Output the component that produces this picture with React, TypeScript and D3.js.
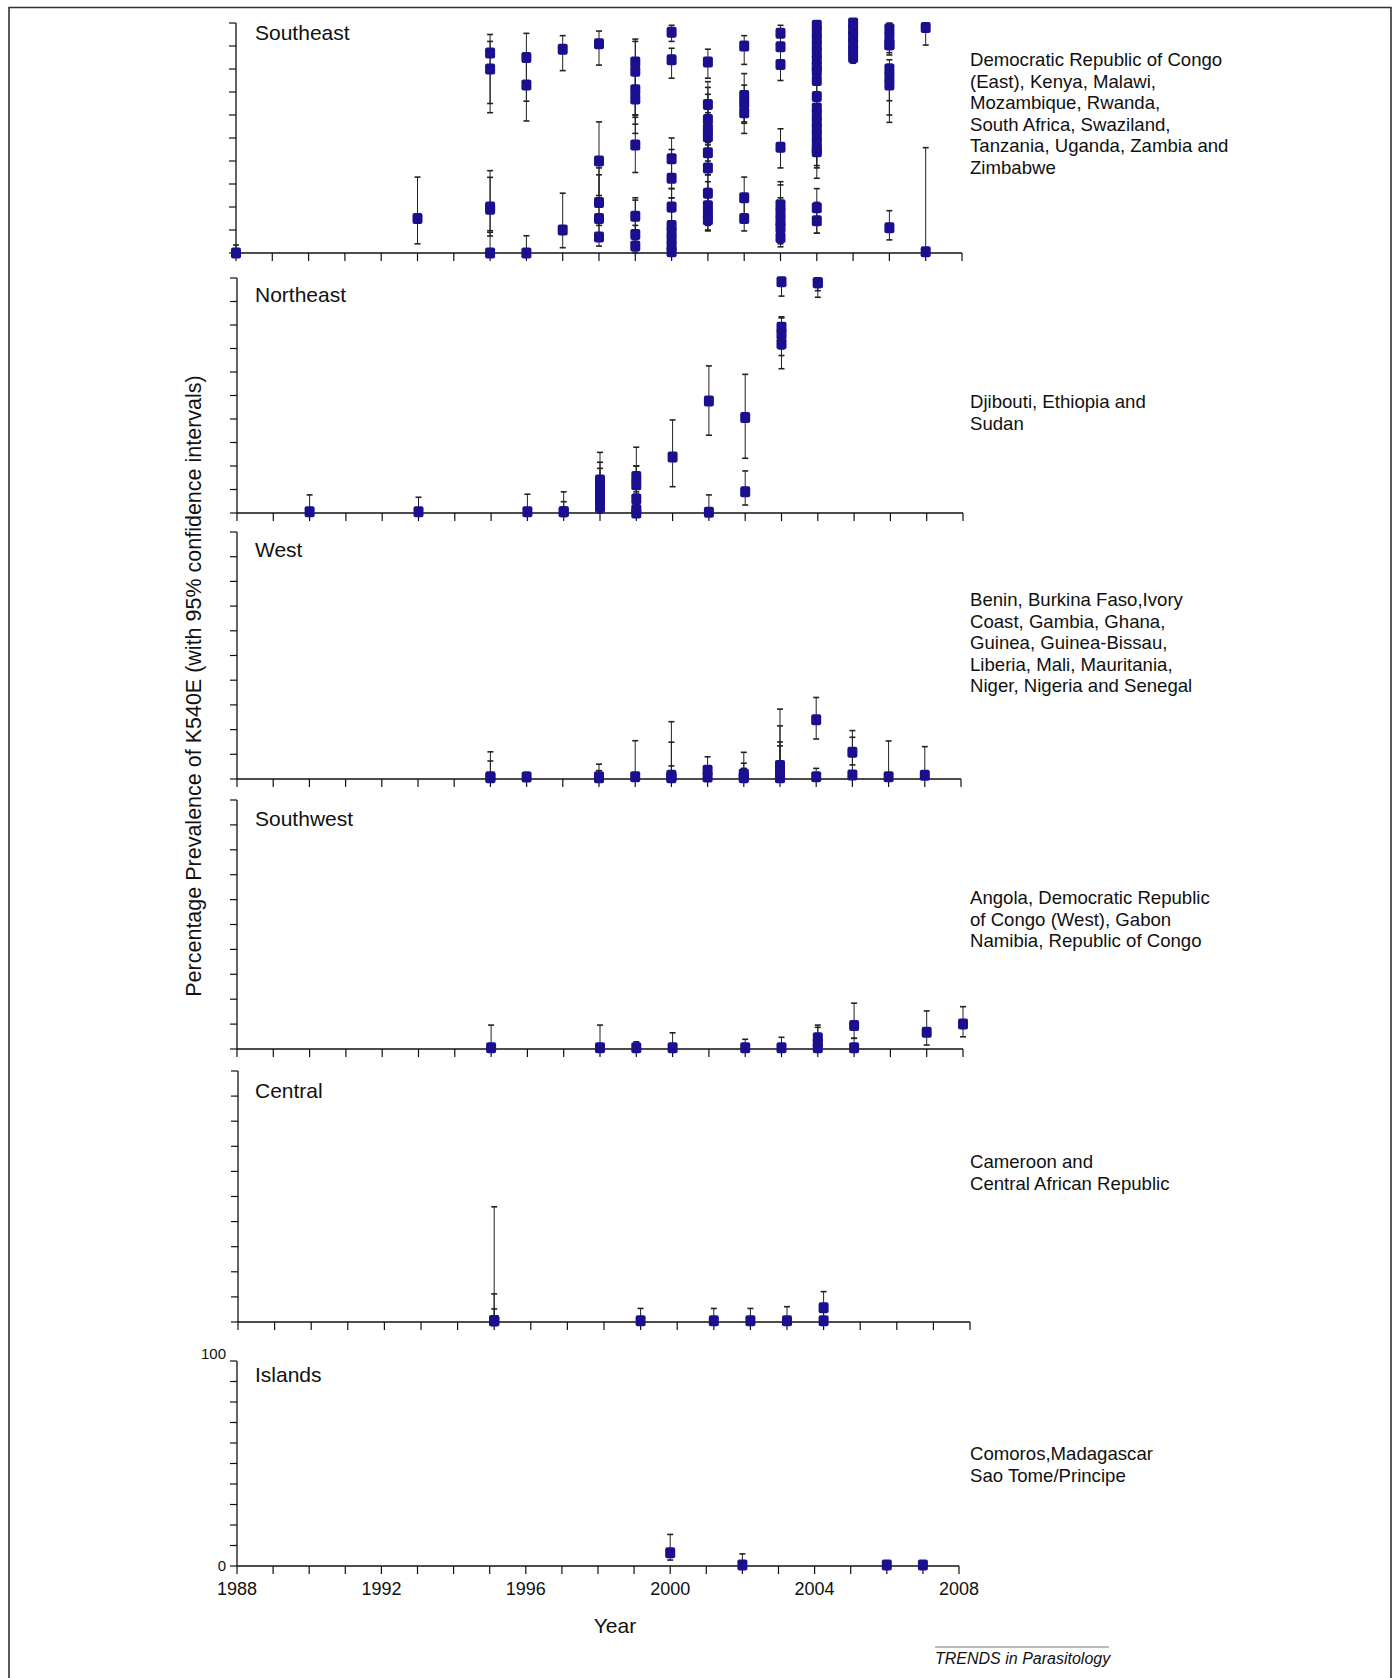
import React from 'react'
import * as d3 from 'd3'

// [year, prevalence %, lower 95% CI, upper 95% CI]
const southeast = [
  [1988, 0, 0, 3.5],
  [1993, 15, 4, 33],
  [1995, 87, 65, 92], [1995, 80, 61, 95], [1995, 19, 9.7, 35.8], [1995, 20, 7.4, 32.9], [1995, 0, 0, 9],
  [1996, 85, 66, 95.5], [1996, 73, 57.4, 85], [1996, 0, 0, 7.5],
  [1997, 88.6, 79.3, 94.5], [1997, 10, 2.3, 26],
  [1998, 91, 81.7, 96.5], [1998, 40, 25, 57], [1998, 22, 12, 37], [1998, 15, 6, 34], [1998, 7, 3, 14],
  [1999, 83, 60, 93], [1999, 79, 59, 92], [1999, 71, 56, 83], [1999, 67, 52, 80], [1999, 47, 35, 60],
  [1999, 16, 5, 24], [1999, 8, 1, 23], [1999, 3, 0, 12],
  [2000, 96, 92, 99], [2000, 84, 76, 89], [2000, 41, 28, 50], [2000, 32.5, 24, 45], [2000, 20, 11, 28],
  [2000, 12, 5, 24], [2000, 9, 3, 18], [2000, 6, 1, 13], [2000, 3, 0, 9], [2000, 0.5, 0, 6],
  [2001, 83, 76, 88.6], [2001, 64.6, 54, 74.5], [2001, 58, 47, 72], [2001, 54, 44, 69], [2001, 50.5, 40, 61],
  [2001, 43.6, 34, 55], [2001, 37, 26, 48], [2001, 26, 14, 34], [2001, 20.5, 12, 31], [2001, 17, 10, 28],
  [2001, 14.5, 9.6, 25],
  [2002, 90, 82, 94.5], [2002, 68.5, 57, 78], [2002, 65, 56.4, 73], [2002, 61, 52, 70], [2002, 24, 13, 33],
  [2002, 15, 9.6, 25],
  [2003, 95.5, 88, 99], [2003, 89.7, 82, 95], [2003, 82, 75, 88], [2003, 46, 37, 54], [2003, 21, 12, 31],
  [2003, 17.5, 10, 29.6], [2003, 14, 8, 24], [2003, 11, 4, 22], [2003, 6.7, 2.7, 14],
  [2004, 99, 95, 100], [2004, 96, 92, 99], [2004, 93, 89, 96], [2004, 90, 86, 94], [2004, 87, 83, 91],
  [2004, 84, 80, 88], [2004, 81, 77, 85], [2004, 79, 75, 83], [2004, 75, 70, 80], [2004, 68, 63, 73],
  [2004, 63, 58, 67], [2004, 60, 55, 64], [2004, 57, 52, 61], [2004, 54, 49, 58], [2004, 51, 46, 55],
  [2004, 48, 32.5, 52], [2004, 45, 37, 49], [2004, 44, 38, 48], [2004, 19.7, 8.6, 28], [2004, 14, 8.6, 22],
  [2005, 100, 97, 100], [2005, 97, 94, 100], [2005, 94, 91, 97], [2005, 91, 88, 94], [2005, 88, 85, 91],
  [2005, 85, 82.5, 88],
  [2006, 97.5, 94, 100], [2006, 94, 90, 97], [2006, 90.5, 86.1, 94], [2006, 90.5, 87.1, 93],
  [2006, 80, 66.2, 84], [2006, 76.5, 56.8, 82], [2006, 73, 60, 78], [2006, 11, 5.7, 18.4],
  [2007, 98, 90.4, 100], [2007, 0.5, 0, 45.8],
]

const northeast = [
  [1990, 0.5, 0, 7.7],
  [1993, 0.5, 0, 6.7],
  [1996, 0.5, 0, 8],
  [1997, 0.5, 0, 9], [1997, 0.5, 0, 4.8],
  [1998, 14, 8, 25.8], [1998, 11, 5, 21.6], [1998, 8, 3, 19], [1998, 5, 1, 14], [1998, 2.5, 0, 10],
  [1999, 15.5, 9, 28], [1999, 12, 6, 20], [1999, 6, 2, 20], [1999, 1.5, 0, 8], [1999, 0, 0, 5],
  [2000, 23.8, 11.2, 39.6],
  [2001, 47.7, 33.1, 62.6], [2001, 0.3, 0, 7.7],
  [2002, 40.6, 23.3, 59], [2002, 9, 3.4, 17.9],
  [2003, 98.4, 92.3, 100], [2003, 79, 69.8, 83], [2003, 76, 67, 83.5], [2003, 72, 61.4, 80],
  [2004, 98, 91.8, 100], [2004, 98, 94.6, 100],
]

const west = [
  [1995, 0.9, 0, 11], [1995, 0.5, 0, 7.3],
  [1996, 0.8, 0, 2.7],
  [1998, 0.9, 0, 6], [1998, 0.5, 0, 3.4],
  [1999, 0.9, 0, 15.5],
  [2000, 1.5, 0, 23.2], [2000, 0.9, 0, 14.9], [2000, 0.5, 0, 5.3],
  [2001, 3.5, 0.5, 9], [2001, 0.8, 0, 5],
  [2002, 2, 0, 10.8], [2002, 1, 0, 6.4], [2002, 0.5, 0, 4.3],
  [2003, 5.5, 1, 28.3], [2003, 3, 0, 21.5], [2003, 1, 0, 15], [2003, 0.5, 0, 13.4],
  [2004, 24, 16.2, 33], [2004, 0.9, 0, 4.3],
  [2005, 10.8, 5.7, 19.6], [2005, 1.6, 0, 16.9],
  [2006, 0.9, 0, 15.4],
  [2007, 1.5, 0, 13.1],
]

const southwest = [
  [1995, 0.5, 0, 9.6],
  [1998, 0.5, 0, 9.6],
  [1999, 0.5, 0, 2.9],
  [2000, 0.5, 0, 6.5],
  [2002, 0.5, 0, 3.9],
  [2003, 0.5, 0, 4.7],
  [2004, 4.5, 0.5, 9.6], [2004, 2.5, 0, 8.7], [2004, 0.5, 0, 4],
  [2005, 9.4, 4.3, 18.4], [2005, 0.5, 0, 4.3],
  [2007, 6.7, 1.6, 15.3],
  [2008, 10, 4.9, 17],
]

const central = [
  [1995, 0.5, 0, 45.9], [1995, 0.5, 0, 11.2], [1995, 0.5, 0, 5.2],
  [1999, 0.5, 0, 5.4],
  [2001, 0.5, 0, 5.4],
  [2002, 0.5, 0, 5.4],
  [2003, 0.5, 0, 6.1],
  [2004, 5.7, 1.5, 12.1], [2004, 0.5, 0, 5],
]

const islands = [
  [2000, 6.5, 2.9, 15.4],
  [2002, 0.5, 0, 5.9],
  [2006, 0.5, 0, 0.5],
  [2007, 0.5, 0, 0.5],
]

const regionNames = ['Southeast', 'Northeast', 'West', 'Southwest', 'Central', 'Islands']
const regionCountries = [
  ['Democratic Republic of Congo', '(East), Kenya, Malawi,', 'Mozambique, Rwanda,', 'South Africa, Swaziland,', 'Tanzania, Uganda, Zambia and', 'Zimbabwe'],
  ['Djibouti, Ethiopia and', 'Sudan'],
  ['Benin, Burkina Faso,Ivory', 'Coast, Gambia, Ghana,', 'Guinea, Guinea-Bissau,', 'Liberia, Mali, Mauritania,', 'Niger, Nigeria and Senegal'],
  ['Angola, Democratic Republic', 'of Congo (West), Gabon', 'Namibia, Republic of Congo'],
  ['Cameroon and', 'Central African Republic'],
  ['Comoros,Madagascar', 'Sao Tome/Principe'],
]
const regionData = [southeast, northeast, west, southwest, central, islands]

const yearDomain = [1988, 2008]
const yearLabels = [1988, 1992, 1996, 2000, 2004, 2008]
const percentLabels = [0, 100]

// panel geometry, page pixels (the scanned panels are not quite aligned)
const panels = [
  { x0: 236, x1: 962, top: 23, base: 253, titleY: 40, textY: 66 },
  { x0: 237, x1: 963, top: 278, base: 513, titleY: 302, textY: 408 },
  { x0: 237, x1: 961, top: 532, base: 779, titleY: 557, textY: 606 },
  { x0: 237, x1: 963, top: 800, base: 1049, titleY: 826, textY: 904 },
  { x0: 238, x1: 970, top: 1071, base: 1322, titleY: 1098, textY: 1168 },
  { x0: 237, x1: 959, top: 1361, base: 1566, titleY: 1382, textY: 1460 },
]

const FONT = '"Liberation Sans", Arial, Helvetica, sans-serif'
const MARK = '#1a0f8f'

function Panel({ idx }) {
  const p = panels[idx]
  const data = regionData[idx]
  const x = d3.scaleLinear().domain(yearDomain).range([p.x0, p.x1])
  const y = d3.scaleLinear().domain([0, 100]).range([p.base, p.top])
  const isLast = idx === panels.length - 1
  return (
    <g>
      {/* axes */}
      <line x1={p.x0} x2={p.x0} y1={p.top} y2={p.base} stroke="#111" strokeWidth={1.3} />
      <line x1={p.x0} x2={p.x1} y1={p.base} y2={p.base} stroke="#111" strokeWidth={1.3} />
      {y.ticks(10).map(t => (
        <line key={'y' + t} x1={p.x0 - 7} x2={p.x0} y1={y(t)} y2={y(t)} stroke="#111" strokeWidth={1.2} />
      ))}
      {x.ticks(20).map(t => (
        <line key={'x' + t} x1={x(t)} x2={x(t)} y1={p.base} y2={p.base + 8} stroke="#111" strokeWidth={1.2} />
      ))}
      {isLast && yearLabels.map(t => (
        <text key={'xl' + t} x={x(t)} y={p.base + 29} textAnchor="middle" fontSize={18} fontFamily={FONT} fill="#111">{t}</text>
      ))}
      {isLast && percentLabels.map(t => (
        <text key={'yl' + t} x={p.x0 - 11} y={y(t) + (t === 0 ? 5 : -2)} textAnchor="end" fontSize={15} fontFamily={FONT} fill="#111">{t}</text>
      ))}
      {/* error bars */}
      {data.map((d, i) => d[3] > d[2] ? (
        <g key={'e' + i} stroke="#222" strokeWidth={1}>
          <line x1={x(d[0])} x2={x(d[0])} y1={y(d[2])} y2={y(d[3])} />
          <line x1={x(d[0]) - 3} x2={x(d[0]) + 3} y1={y(d[2])} y2={y(d[2])} strokeWidth={1.6} />
          <line x1={x(d[0]) - 3} x2={x(d[0]) + 3} y1={y(d[3])} y2={y(d[3])} strokeWidth={1.6} />
        </g>
      ) : null)}
      {/* prevalence markers */}
      {data.map((d, i) => (
        <rect key={'m' + i} x={x(d[0]) - 5} y={y(d[1]) - 5.5} width={10} height={11} rx={2} fill={MARK} />
      ))}
      <text x={255} y={p.titleY} fontSize={21} fontFamily={FONT} fill="#111">{regionNames[idx]}</text>
      {regionCountries[idx].map((line, i) => (
        <text key={'c' + i} x={970} y={p.textY + i * 21.6} fontSize={18.6} fontFamily={FONT} fill="#111">{line}</text>
      ))}
    </g>
  )
}

export default function App() {
  return (
    <svg width={1395} height={1678} style={{ position: 'absolute', left: 0, top: 0, background: '#fff' }}>
      <rect x={0} y={0} width={1395} height={1678} fill="#fff" />
      <path d="M9,1690 L9,7.5 L1391,7.5 L1391,1690" fill="none" stroke="#333" strokeWidth={1.6} />
      {panels.map((_, i) => <Panel key={i} idx={i} />)}
      <text transform="translate(201,686) rotate(-90)" textAnchor="middle" fontSize={21.5} fontFamily={FONT} fill="#111">
        Percentage Prevalence of K540E (with 95% confidence intervals)
      </text>
      <text x={615} y={1633} textAnchor="middle" fontSize={21} fontFamily={FONT} fill="#111">Year</text>
      <line x1={935} x2={1109} y1={1647} y2={1647} stroke="#777" strokeWidth={1} />
      <text x={935} y={1664} fontSize={16} fontStyle="italic" fontFamily={FONT} fill="#111">TRENDS in Parasitology</text>
    </svg>
  )
}
